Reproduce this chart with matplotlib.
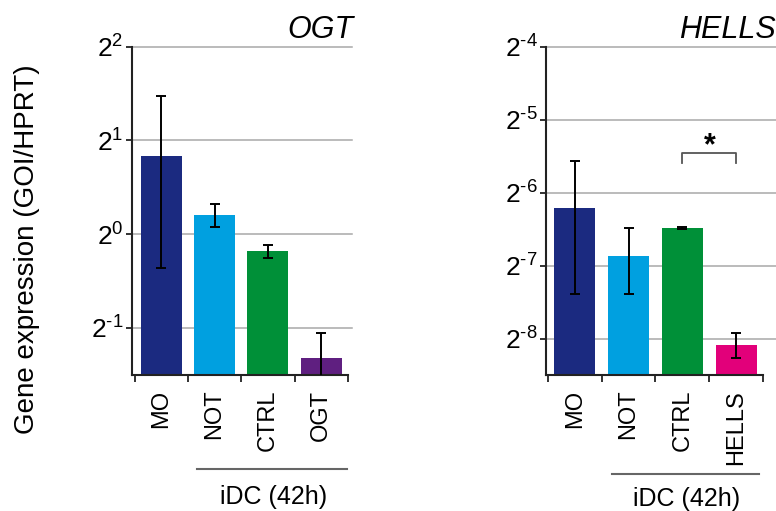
import matplotlib
matplotlib.use("Agg")
import matplotlib.pyplot as plt
import numpy as np

plt.rcParams['font.family'] = ['Liberation Sans', 'DejaVu Sans']
plt.rcParams['mathtext.fontset'] = 'custom'
plt.rcParams['mathtext.rm'] = 'Liberation Sans'
plt.rcParams['mathtext.it'] = 'Liberation Sans:italic'

# ---- data ----
categories_ogt = ["MO", "NOT", "CTRL", "OGT"]
values_ogt = [1.78, 1.15, 0.88, 0.40]
errors_ogt = [1.00, 0.095, 0.04, 0.082]

categories_hells = ["MO", "NOT", "CTRL", "HELLS"]
values_hells = [0.01356, 0.00857, 0.01116, 0.00368]
errors_hells = [0.0076, 0.0026, 0.0001, 0.00044]

colors_ogt = ["#1b2a80", "#00a0e0", "#009038", "#5f1f80"]
colors_hells = ["#1b2a80", "#00a0e0", "#009038", "#e2007a"]

exps_ogt = [-1, 0, 1, 2]
exps_hells = [-8, -7, -6, -5, -4]

fig = plt.figure(figsize=(7.76, 5.11), dpi=100)

def exp_label(e):
    return r'$\mathregular{2}^{\text{%d}}$' % e

def panel(rect, cats, vals, errs, cols, exps, ylim_exp, xlim, title, title_x, grid_ext,
          line_x, line_y, text_x, text_y):
    ax = fig.add_axes(rect)
    x = np.arange(len(cats))
    ax.set_yscale('log', base=2)
    ax.set_ylim(2.0 ** ylim_exp[0], 2.0 ** ylim_exp[1])
    ax.set_xlim(*xlim)
    for e in exps:
        ax.axhline(2.0 ** e, xmin=0, xmax=grid_ext, color='#a8a8a8', lw=1.1,
                   zorder=0, clip_on=False)
    ax.bar(x, vals, width=0.77, color=cols, zorder=2)
    ax.errorbar(x, vals, yerr=errs, fmt='none', ecolor='black', elinewidth=1.4,
                capsize=3.5, capthick=1.4, zorder=3)
    ax.set_yticks([2.0 ** e for e in exps])
    ax.set_yticklabels([exp_label(e) for e in exps], fontsize=19)
    ax.yaxis.set_minor_locator(matplotlib.ticker.NullLocator())
    ax.set_xticks(np.arange(len(cats) + 1) - 0.5)
    ax.set_xticklabels([])
    ax.tick_params(axis='x', direction='out', length=5, width=1.3, color='#222222')
    ax.tick_params(axis='y', direction='out', length=4, width=1.3, color='#222222', pad=2)
    for s in ['top', 'right']:
        ax.spines[s].set_visible(False)
    for s in ['left', 'bottom']:
        ax.spines[s].set_linewidth(1.5)
        ax.spines[s].set_color('#222222')
    trans = matplotlib.transforms.blended_transform_factory(ax.transData, ax.transAxes)
    for xi, c in zip(x, cats):
        ax.text(xi, -0.045, c, rotation=90, ha='center', va='top', fontsize=17,
                transform=trans)
    ax.plot(line_x, [line_y, line_y], color='#666666', lw=1.5, transform=trans,
            clip_on=False)
    ax.text(text_x, text_y, 'iDC (42h)', ha='center', va='center', fontsize=18,
            transform=trans)
    fig.text(title_x, 1 - 38 / 511, title, ha='right', va='baseline', fontsize=22,
             style='italic')
    return ax

ax1 = panel([131.7 / 776, 1 - 375 / 511, (348 - 131.7) / 776, (375 - 46.7) / 511],
            categories_ogt, values_ogt, errors_ogt, colors_ogt, exps_ogt,
            (-1.505, 2.0), (-0.553, 3.5), 'OGT', 353 / 776, 1.02,
            [0.67, 3.49], -0.286, 2.1, -0.372)

ax2 = panel([545.7 / 776, 1 - 375 / 511, (763.3 - 545.7) / 776, (375 - 46.7) / 511],
            categories_hells, values_hells, errors_hells, colors_hells, exps_hells,
            (-8.5, -4.0), (-0.537, 3.476), 'HELLS', 776 / 776, 1.06,
            [0.69, 3.42], -0.302, 2.07, -0.378)

# significance bracket between CTRL and HELLS
bx = [2, 2, 3, 3]
by = [2.0 ** -5.6, 2.0 ** -5.46, 2.0 ** -5.46, 2.0 ** -5.6]
ax2.plot(bx, by, color='#555555', lw=1.3, zorder=4)
ax2.text(2.5, 2.0 ** -5.36, '*', ha='center', va='center', fontsize=22, fontweight='bold')

fig.text(27 / 776, 1 - 249 / 511, 'Gene expression (GOI/HPRT)', rotation=90,
         ha='center', va='center', fontsize=20)

fig.savefig('out.png', dpi=100)
